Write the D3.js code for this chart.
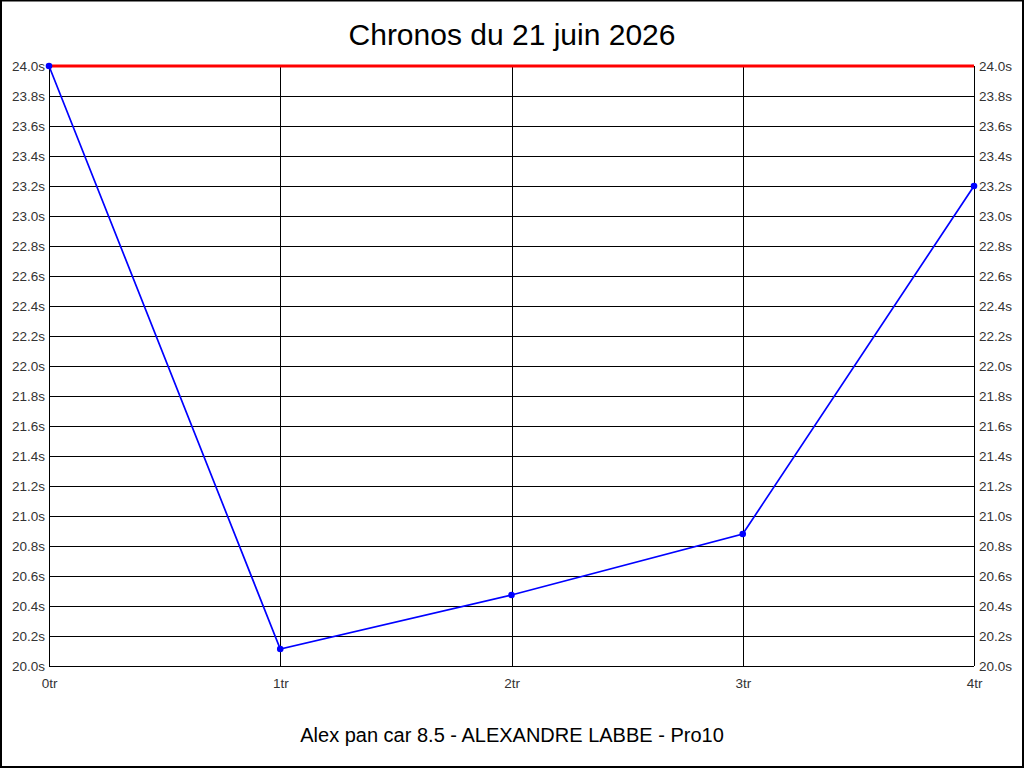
<!DOCTYPE html>
<html>
<head>
<meta charset="utf-8">
<script src="https://cdn.jsdelivr.net/npm/d3@7"></script>
<style>
  html, body { margin: 0; padding: 0; background: #fff; }
  svg { display: block; font-family: "Liberation Sans", Arial, sans-serif; }
</style>
</head>
<body>
<svg id="chart"></svg>
<script>
// data
const laps = ["0tr", "1tr", "2tr", "3tr", "4tr"];
const times = [24.0, 20.113, 20.473, 20.88, 23.2];
const yTicks = [20.0, 20.2, 20.4, 20.6, 20.8, 21.0, 21.2, 21.4, 21.6, 21.8, 22.0,
                22.2, 22.4, 22.6, 22.8, 23.0, 23.2, 23.4, 23.6, 23.8, 24.0];
const refTime = 24.0;
const title = "Chronos du 21 juin 2026";
const subtitle = "Alex pan car 8.5 - ALEXANDRE LABBE - Pro10";

const width = 1024;
const height = 768;
const margin = { top: 66, right: 50, bottom: 102, left: 49 };

const svg = d3.select("#chart").attr("width", width).attr("height", height);

// frame
svg.append("rect")
    .attr("x", 1).attr("y", 0.5)
    .attr("width", width - 2).attr("height", height - 1.5)
    .attr("fill", "#fff")
    .attr("stroke", "#000")
    .attr("stroke-width", 2);

const x = d3.scalePoint()
    .domain(laps)
    .range([margin.left, width - margin.right]);

const y = d3.scaleLinear()
    .domain([20, 24])
    .range([height - margin.bottom, margin.top]);

// horizontal grid
svg.append("g")
    .selectAll("line")
    .data(yTicks)
    .enter()
    .append("line")
    .attr("x1", margin.left)
    .attr("x2", width - margin.right)
    .attr("y1", d => Math.round(y(d)) + 0.5)
    .attr("y2", d => Math.round(y(d)) + 0.5)
    .attr("stroke", "#000")
    .attr("stroke-width", 1);

// vertical grid
svg.append("g")
    .selectAll("line")
    .data(laps)
    .enter()
    .append("line")
    .attr("x1", d => Math.round(x(d)) + 0.5)
    .attr("x2", d => Math.round(x(d)) + 0.5)
    .attr("y1", margin.top)
    .attr("y2", height - margin.bottom)
    .attr("stroke", "#000")
    .attr("stroke-width", 1);

// reference line
svg.append("line")
    .attr("x1", margin.left)
    .attr("x2", width - margin.right)
    .attr("y1", y(refTime))
    .attr("y2", y(refTime))
    .attr("stroke", "#f00")
    .attr("stroke-width", 3);

// axes (labels only)
const yFmt = d => d.toFixed(1) + "s";
const leftAxis = svg.append("g")
    .attr("transform", `translate(${margin.left - 4}, 0)`)
    .call(d3.axisLeft(y).tickValues(yTicks).tickFormat(yFmt).tickSize(0).tickPadding(0));
leftAxis.select(".domain").remove();

const rightAxis = svg.append("g")
    .attr("transform", `translate(${width - margin.right + 5}, 0)`)
    .call(d3.axisRight(y).tickValues(yTicks).tickFormat(yFmt).tickSize(0).tickPadding(0));
rightAxis.select(".domain").remove();

const bottomAxis = svg.append("g")
    .attr("transform", `translate(0, ${height - margin.bottom + 12})`)
    .call(d3.axisBottom(x).tickSize(0).tickPadding(0));
bottomAxis.select(".domain").remove();

svg.selectAll(".tick text")
    .attr("font-family", "'Liberation Sans', Arial, sans-serif")
    .attr("font-size", 13.5)
    .attr("fill", "#333");

// series
const pts = laps.map((l, i) => ({ lap: l, t: times[i] }));

svg.append("path")
    .datum(pts)
    .attr("fill", "none")
    .attr("stroke", "#0000ff")
    .attr("stroke-width", 1.7)
    .attr("d", d3.line().x(d => x(d.lap)).y(d => y(d.t)));

svg.append("g")
    .selectAll("circle")
    .data(pts)
    .enter()
    .append("circle")
    .attr("cx", d => x(d.lap))
    .attr("cy", d => y(d.t))
    .attr("r", 3.3)
    .attr("fill", "#0000ff");

// titles
svg.append("text")
    .attr("x", width / 2)
    .attr("y", 45)
    .attr("text-anchor", "middle")
    .style("font-size", "30px")
    .text(title);

svg.append("text")
    .attr("x", width / 2)
    .attr("y", 742)
    .attr("text-anchor", "middle")
    .style("font-size", "20px")
    .text(subtitle);
</script>
</body>
</html>
